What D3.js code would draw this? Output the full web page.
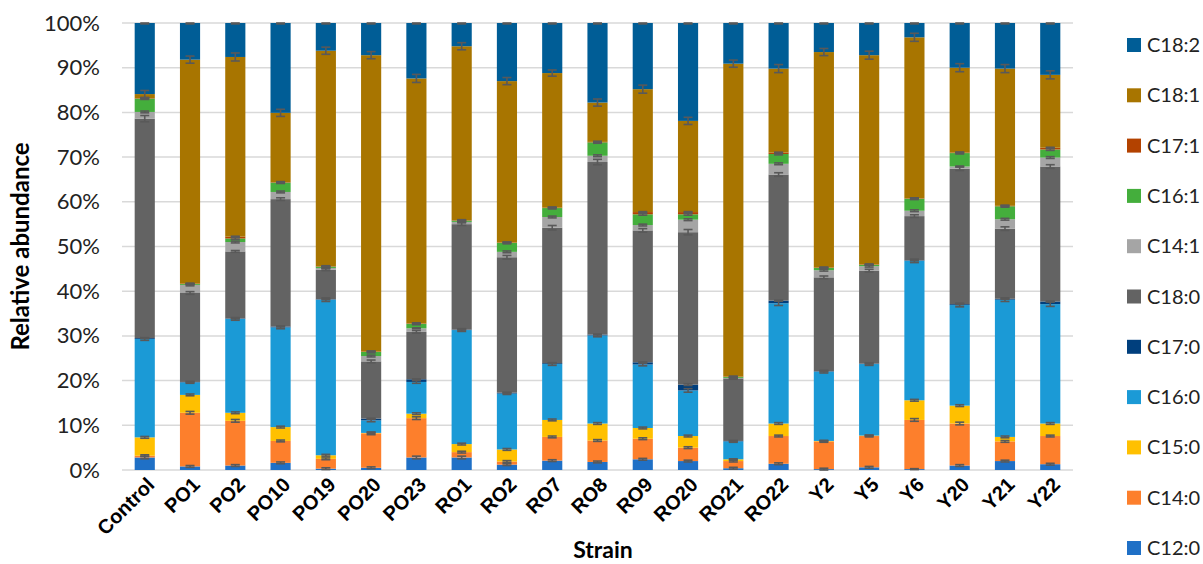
<!DOCTYPE html>
<html>
<head>
<meta charset="utf-8">
<script src="https://cdn.jsdelivr.net/npm/d3@7"></script>
<style>
  body { margin: 0; background: #fff; }
  svg { font-family: Lato, "Open Sans", sans-serif; }
</style>
</head>
<body>
<svg id="chart"></svg>
<script>
// strains on the x axis
var strains = ["Control", "PO1", "PO2", "PO10", "PO19", "PO20", "PO23", "RO1", "RO2", "RO7",
    "RO8", "RO9", "RO20", "RO21", "RO22", "Y2", "Y5", "Y6", "Y20", "Y21", "Y22"];

// fatty acids, bottom of the stack first
var acids = ["C12:0", "C14:0", "C15:0", "C16:0", "C17:0", "C18:0", "C14:1", "C16:1", "C17:1", "C18:1", "C18:2"];

// relative abundance (%) per fatty acid, one value per strain
var c12_0 = [2.8, 0.8, 1.0, 1.6, 0.3, 0.5, 2.8, 2.8, 1.2, 2.1, 1.8, 2.4, 2.0, 0.4, 1.4, 0.2, 0.6, 0.2, 1.0, 2.0, 1.3];
var c14_0 = [0.4, 12.0, 10.0, 4.9, 2.2, 7.7, 8.8, 1.2, 0.7, 5.3, 4.8, 4.6, 3.0, 1.6, 6.2, 6.2, 7.0, 11.0, 9.4, 4.4, 6.3];
var c15_0 = [4.1, 4.0, 1.8, 3.1, 0.8, 0.1, 1.0, 1.8, 2.7, 3.8, 3.8, 2.4, 2.6, 0.4, 2.8, 0.1, 0.1, 4.4, 4.0, 1.0, 2.8];
var c16_0 = [22.0, 2.8, 21.0, 22.3, 34.8, 2.8, 7.1, 25.5, 12.5, 12.5, 19.7, 14.2, 10.2, 4.0, 26.9, 15.5, 16.0, 31.2, 22.5, 30.7, 26.7];
var c17_0 = [0.2, 0.1, 0.1, 0.2, 0.1, 0.4, 0.6, 0.1, 0.2, 0.2, 0.2, 0.5, 1.3, 0.1, 0.6, 0.1, 0.1, 0.1, 0.2, 0.2, 0.6];
var c18_0 = [49.1, 19.9, 15.0, 28.5, 6.6, 12.8, 10.6, 23.6, 30.3, 30.3, 38.6, 29.5, 34.1, 14.0, 28.2, 21.0, 20.8, 9.9, 30.3, 15.7, 30.2];
var c14_1 = [1.5, 1.8, 2.1, 1.6, 0.4, 1.2, 0.8, 0.5, 1.2, 2.4, 1.4, 1.2, 2.8, 0.1, 2.4, 1.6, 1.0, 1.2, 0.5, 2.1, 2.0];
var c16_1 = [3.0, 0.2, 0.8, 2.1, 0.3, 0.9, 1.0, 0.3, 2.0, 2.0, 3.0, 2.4, 1.2, 0.2, 2.2, 0.5, 0.3, 2.7, 3.0, 2.9, 1.8];
var c17_1 = [0.1, 0.1, 0.4, 0.1, 0.1, 0.1, 0.1, 0.1, 0.1, 0.1, 0.1, 0.5, 0.5, 0.1, 0.3, 0.1, 0.1, 0.1, 0.1, 0.1, 0.4];
var c18_1 = [0.9, 50.1, 40.2, 15.5, 48.2, 66.3, 54.8, 38.9, 36.1, 30.1, 8.8, 27.5, 20.4, 70.0, 18.8, 48.2, 46.8, 36.0, 19.0, 30.7, 16.3];
var c18_2 = [15.9, 8.2, 7.6, 20.1, 6.2, 7.2, 12.4, 5.2, 13.0, 11.2, 17.8, 14.8, 21.9, 9.1, 10.2, 6.5, 7.2, 3.2, 10.0, 10.2, 11.6];

// error bar half lengths (%), same order
var e12_0 = [0.3, 0.2, 0.2, 0.2, 0.2, 0.2, 0.3, 0.3, 0.2, 0.2, 0.2, 0.2, 0.2, 0.2, 0.2, 0.2, 0.2, 0.1, 0.2, 0.2, 0.2];
var e14_0 = [0.2, 0.3, 0.3, 0.2, 0.2, 0.3, 0.3, 0.2, 0.2, 0.2, 0.2, 0.2, 0.2, 0.2, 0.2, 0.2, 0.2, 0.3, 0.3, 0.2, 0.2];
var e15_0 = [0.2, 0.2, 0.2, 0.2, 0.2, 0.1, 0.2, 0.2, 0.2, 0.2, 0.2, 0.2, 0.2, 0.1, 0.2, 0.1, 0.1, 0.2, 0.2, 0.2, 0.2];
var e16_0 = [0.3, 0.2, 0.3, 0.3, 0.4, 0.3, 0.3, 0.3, 0.2, 0.3, 0.3, 0.3, 0.4, 0.2, 0.5, 0.3, 0.3, 0.4, 0.4, 0.4, 0.5];
var e17_0 = [0.1, 0.1, 0.1, 0.1, 0.1, 0.1, 0.1, 0.1, 0.1, 0.1, 0.1, 0.1, 0.2, 0.1, 0.1, 0.1, 0.1, 0.1, 0.1, 0.1, 0.1];
var e18_0 = [0.7, 0.3, 0.2, 0.3, 0.2, 0.3, 0.3, 0.3, 0.4, 0.5, 0.6, 0.4, 0.6, 0.2, 0.4, 0.3, 0.3, 0.3, 0.4, 0.4, 0.4];
var e14_1 = [0.2, 0.2, 0.2, 0.2, 0.1, 0.2, 0.1, 0.1, 0.2, 0.2, 0.2, 0.2, 0.2, 0.1, 0.2, 0.2, 0.2, 0.2, 0.1, 0.2, 0.2];
var e16_1 = [0.2, 0.1, 0.2, 0.2, 0.1, 0.2, 0.2, 0.1, 0.2, 0.2, 0.2, 0.2, 0.2, 0.1, 0.2, 0.1, 0.1, 0.2, 0.2, 0.2, 0.2];
var e17_1 = [0.1, 0.1, 0.1, 0.1, 0.1, 0.1, 0.1, 0.1, 0.1, 0.1, 0.1, 0.1, 0.1, 0.1, 0.1, 0.1, 0.1, 0.1, 0.1, 0.1, 0.1];
var e18_1 = [0.8, 0.8, 0.9, 0.8, 0.8, 0.8, 0.9, 0.8, 0.8, 0.7, 0.8, 0.9, 0.8, 0.8, 0.9, 0.8, 0.9, 0.9, 0.9, 0.9, 0.9];
var e18_2 = [0.2, 0.2, 0.2, 0.2, 0.2, 0.2, 0.2, 0.2, 0.2, 0.2, 0.2, 0.2, 0.2, 0.2, 0.2, 0.2, 0.2, 0.2, 0.2, 0.2, 0.2];

var yTicks = [0, 0.1, 0.2, 0.3, 0.4, 0.5, 0.6, 0.7, 0.8, 0.9, 1];

var values = [c12_0, c14_0, c15_0, c16_0, c17_0, c18_0, c14_1, c16_1, c17_1, c18_1, c18_2];
var errors = [e12_0, e14_0, e15_0, e16_0, e17_0, e18_0, e14_1, e16_1, e17_1, e18_1, e18_2];
var colors = ["#1f70c6", "#fd7f2c", "#ffc000", "#1b9ad6", "#003f7d", "#636363",
    "#a5a5a5", "#44ae3c", "#b34200", "#a87500", "#005d96"];

var W = 1203, H = 564;
var margin = {top: 23, right: 130, bottom: 94, left: 122},
    width = W - margin.left - margin.right,
    height = H - margin.top - margin.bottom;

// build rows for d3.stack
var rows = strains.map(function(s, i) {
    var r = {strain: s};
    acids.forEach(function(a, j) { r[a] = values[j][i]; });
    return r;
});
var totals = rows.map(function(r) { return d3.sum(acids, function(a) { return r[a]; }); });

var series = d3.stack().keys(acids).offset(d3.stackOffsetExpand)(rows);

var x = d3.scaleBand().domain(strains).range([0, width]).paddingInner(0.555).paddingOuter(0.28);
var y = d3.scaleLinear().domain([0, 1]).range([height, 0]);
var color = d3.scaleOrdinal().domain(acids).range(colors);

var svg = d3.select("#chart").attr("width", W).attr("height", H);
var g = svg.append("g").attr("transform", "translate(" + margin.left + "," + margin.top + ")");

// gridlines
g.append("g")
    .selectAll("line")
    .data(yTicks)
    .enter().append("line")
    .attr("x1", 0).attr("x2", width)
    .attr("y1", function(d) { return y(d); })
    .attr("y2", function(d) { return y(d); })
    .attr("stroke", "#d9d9d9")
    .attr("stroke-width", 1.5);

// y axis labels
var yAxis = g.append("g")
    .call(d3.axisLeft(y).tickValues(yTicks).tickFormat(d3.format(".0%")).tickSize(0).tickPadding(22));
yAxis.select(".domain").remove();
yAxis.selectAll("text").attr("font-size", 22).attr("fill", "#222").attr("font-family", "Lato, sans-serif");

// stacked bars
var layer = g.selectAll(".layer")
    .data(series)
    .enter().append("g")
    .attr("class", "layer")
    .attr("fill", function(d) { return color(d.key); });

layer.selectAll("rect")
    .data(function(d) { return d; })
    .enter().append("rect")
    .attr("x", function(d) { return x(d.data.strain); })
    .attr("width", x.bandwidth())
    .attr("y", function(d) { return y(d[1]); })
    .attr("height", function(d) { return Math.max(0, y(d[0]) - y(d[1])); });

// error bars at the top of each segment
var cap = 9;
var eb = g.append("g").attr("stroke", "#595959").attr("stroke-width", 1.6).attr("fill", "none");
series.forEach(function(s, j) {
    s.forEach(function(d, i) {
        var e = errors[j][i] / totals[i];
        var cx = x(d.data.strain) + x.bandwidth() / 2;
        var top = Math.min(1, d[1] + e), bot = d[1] - e;
        eb.append("line").attr("x1", cx).attr("x2", cx).attr("y1", y(top)).attr("y2", y(bot));
        eb.append("line").attr("x1", cx - cap / 2).attr("x2", cx + cap / 2).attr("y1", y(top)).attr("y2", y(top));
        eb.append("line").attr("x1", cx - cap / 2).attr("x2", cx + cap / 2).attr("y1", y(bot)).attr("y2", y(bot));
    });
});

// x axis labels
var xAxis = g.append("g")
    .attr("transform", "translate(0," + height + ")")
    .call(d3.axisBottom(x).tickSize(0).tickPadding(0));
xAxis.select(".domain").remove();
xAxis.selectAll("text")
    .attr("font-size", 20)
    .attr("font-weight", "bold")
    .attr("fill", "#000")
    .attr("text-anchor", "end")
    .attr("dy", null)
    .attr("transform", "translate(11,16) rotate(-45)");

// axis titles
svg.append("text")
    .attr("transform", "translate(29," + (margin.top + height / 2) + ") rotate(-90)")
    .attr("text-anchor", "middle")
    .attr("font-size", 24)
    .attr("font-weight", "bold")
    .text("Relative abundance");

svg.append("text")
    .attr("x", 603)
    .attr("y", 558)
    .attr("text-anchor", "middle")
    .attr("font-size", 23)
    .attr("font-weight", "bold")
    .text("Strain");

// legend, top item is the top of the stack
var legend = svg.append("g").attr("transform", "translate(1127,45)");
var item = legend.selectAll("g")
    .data(acids.slice().reverse())
    .enter().append("g")
    .attr("transform", function(d, i) { return "translate(0," + (i * 50.3) + ")"; });
item.append("rect")
    .attr("x", 0).attr("y", -7)
    .attr("width", 14).attr("height", 14)
    .attr("fill", function(d) { return color(d); });
item.append("text")
    .attr("x", 20).attr("y", 0)
    .attr("dy", "0.35em")
    .attr("font-size", 20)
    .attr("fill", "#222")
    .text(function(d) { return d; });
</script>
</body>
</html>
